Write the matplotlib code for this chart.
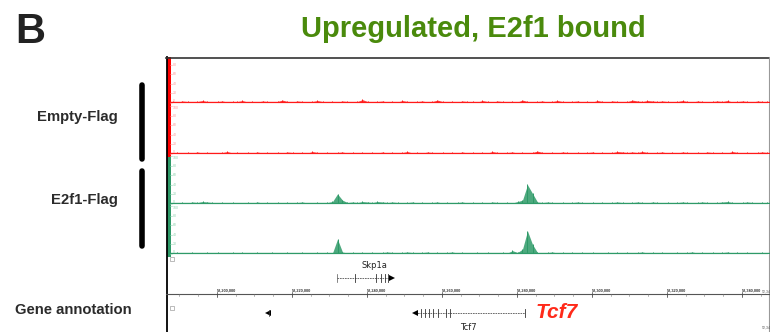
import numpy as np
import matplotlib
matplotlib.use("Agg")
import matplotlib.pyplot as plt
from matplotlib.patches import Rectangle

plt.rcParams['font.family'] = ['Liberation Sans', 'DejaVu Sans']

W, H = 770, 332

# genome window (bp) shown in the browser
XMIN, XMAX = 52187467, 52347467

# binned coverage, 120 bins over the window
empty_rep1 = [3,2,4,3,2,3,5,3,2,3,4,2,3,3,5,2,3,2,4,3,
              2,3,6,3,2,4,3,2,3,5,3,2,3,2,4,3,2,3,7,3,
              2,3,4,2,3,2,5,3,2,3,4,2,3,6,3,2,3,2,4,3,
              3,2,5,3,2,4,3,2,3,2,6,3,2,3,4,2,3,5,3,2,
              3,4,2,3,2,5,3,2,4,3,2,3,6,4,3,5,4,3,4,3,
              2,3,5,3,2,4,3,2,3,4,3,5,2,3,4,3,2,4,3,3]
empty_rep2 = [2,3,2,3,2,4,2,3,2,2,3,5,2,3,2,3,2,4,2,3,
              2,3,2,4,3,2,3,2,5,3,2,3,2,3,4,2,3,2,3,2,
              3,2,4,2,3,2,3,5,2,3,2,4,3,2,3,2,3,2,4,2,
              3,2,3,2,5,3,2,3,4,2,3,2,3,6,3,2,3,2,4,3,
              2,3,2,3,4,2,3,2,3,5,4,3,4,3,5,3,2,3,4,2,
              3,2,4,3,2,3,2,4,3,2,3,2,5,3,2,3,2,3,4,3]
e2f1_rep1 = [2,2,3,2,4,3,5,4,3,2,3,2,3,2,2,3,2,4,2,3,
             2,3,2,3,2,3,4,2,2,3,2,3,5,21,8,3,4,3,5,4,
             3,5,4,3,4,3,2,3,4,2,3,2,3,4,2,3,2,3,4,2,
             3,2,3,2,4,3,2,3,2,5,8,40,22,4,3,4,3,2,3,2,
             3,4,3,2,3,2,3,2,3,4,3,2,3,4,3,2,4,3,2,3,
             2,3,4,3,2,3,4,3,2,3,4,5,3,2,3,4,3,2,3,3]
e2f1_rep2 = [2,3,2,2,3,2,2,3,2,3,2,2,3,2,3,2,2,3,2,2,
             3,2,2,3,2,2,3,2,2,3,2,3,2,31,4,2,3,2,3,2,
             3,2,3,4,3,2,3,4,3,2,3,4,2,3,2,3,4,2,3,2,
             2,3,2,3,2,2,3,2,7,3,10,48,20,3,2,3,4,2,3,2,
             3,2,3,2,3,2,2,3,2,3,2,3,2,3,4,2,3,2,3,2,
             2,3,2,3,4,2,3,2,3,2,3,4,2,3,2,3,2,2,3,2]

track_data = [empty_rep1, empty_rep2, e2f1_rep1, e2f1_rep2]
track_colors = ['#ff1a1a', '#ff1a1a', '#2e9a68', '#2e9a68']
label_colors = ['#ff9a9a', '#ff9a9a', '#8fd3b0', '#8fd3b0']
yticks = [0, 20, 40, 60, 80, 100]

# genes
skp1a_span = (52232000, 52246667)
skp1a_exons = [52236800, 52242400, 52243733, 52244800, 52245600]
tcf7_span = (52252800, 52282133)
tcf7_exons = [52254400, 52255467, 52256533, 52257600, 52258933, 52261067, 52262133]
other_gene_end = 52213600
ruler_major = [52200000, 52220000, 52240000, 52260000, 52280000, 52300000, 52320000, 52340000]


def box(x0, y0, x1, y1):
    return [x0 / W, 1 - y1 / H, (x1 - x0) / W, (y1 - y0) / H]


fig = plt.figure(figsize=(W / 100, H / 100), dpi=100)

# background axes in pixel coordinates
bg = fig.add_axes([0, 0, 1, 1], zorder=0)
bg.set_xlim(0, W)
bg.set_ylim(H, 0)
bg.axis('off')

bg.text(15, 43, "B", fontsize=30, weight='bold', color='#222222', ha='left', va='baseline')
bg.text(473, 37, "Upregulated, E2f1 bound", fontsize=21, weight='bold',
        color='#4a8a0c', ha='center', va='baseline')

bg.text(118, 121, "Empty-Flag", fontsize=10.7, weight='bold', color='#2b2b2b', ha='right', va='baseline')
bg.text(118, 204, "E2f1-Flag", fontsize=10.7, weight='bold', color='#2b2b2b', ha='right', va='baseline')
bg.text(15, 314, "Gene annotation", fontsize=10.7, weight='bold', color='#2b2b2b', ha='left', va='baseline')

for y0, y1 in [(84.5, 158.5), (170.5, 245.5)]:
    bg.plot([141.5, 141.5], [y0, y1], color='black', lw=4, solid_capstyle='round')

# browser frame
bg.add_patch(Rectangle((167, 57), 4, 100, color='#ff0000', lw=0))
bg.add_patch(Rectangle((167, 157), 4, 100, color='#2e9a68', lw=0))
bg.plot([166.5, 166.5], [57, 332], color='black', lw=1.3)
bg.plot([166, 769.5], [57.5, 57.5], color='#333333', lw=1.2)
bg.plot([769.3, 769.3], [57, 332], color='#999999', lw=0.8)
bg.plot([166, 770], [294, 294], color='#555555', lw=0.8)
for yy in [257, 306]:
    bg.add_patch(Rectangle((170, yy), 3.5, 3.5, fill=False, ec='#888888', lw=0.4))
bg.text(557, 313, "Tcf7", fontsize=15, weight='bold', style='italic', color='#ff2a1a',
        ha='center', va='center')
bg.text(762, 294, "52,34", fontsize=2.5, color='#555555', ha='left', va='bottom')
bg.text(762, 330, "52,34", fontsize=2.5, color='#555555', ha='left', va='bottom')

# signal tracks
edges = np.linspace(XMIN, XMAX, len(empty_rep1) + 1)
centers = (edges[:-1] + edges[1:]) / 2
baselines = [103, 154, 204, 254]
for k, (vals, base) in enumerate(zip(track_data, baselines)):
    ax = fig.add_axes(box(170, base - 48, 770, base), zorder=1)
    ax.set_facecolor('none')
    ax.set_xlim(XMIN, XMAX)
    ax.set_ylim(0, 100)
    ax.axis('off')
    v = np.array(vals, dtype=float)
    ax.fill_between(centers, 0.8, v, color=track_colors[k], lw=0, alpha=0.85)
    ax.vlines(centers, 0.5, v + 0.8, color=track_colors[k], lw=0.7)
    ax.plot([XMIN, XMAX], [1.5, 1.5], color=track_colors[k], lw=1.0)
    for t in yticks:
        if k == 0 and t == 100:
            continue
        va = 'bottom' if t == 0 else ('top' if t == 100 else 'center')
        ax.plot([XMIN, XMIN + 500], [t, t], color=label_colors[k], lw=0.4, clip_on=False)
        ax.text(XMIN + 700, t, str(t), fontsize=2.5, color=label_colors[k],
                ha='left', va=va, clip_on=False)

# gene annotation + ruler (y in pixels)
ga = fig.add_axes(box(170, 257, 770, 332), zorder=1)
ga.set_facecolor('none')
ga.set_xlim(XMIN, XMAX)
ga.set_ylim(332, 257)
ga.axis('off')

# Skp1a (+ strand)
ga.plot(skp1a_span, [278, 278], color='#555555', lw=0.6, ls=(0, (2, 1)))
ga.plot([skp1a_span[0]] * 2, [274, 282], color='#555555', lw=0.5)
for e in skp1a_exons:
    ga.plot([e, e], [274, 282], color='#333333', lw=0.6)
ga.plot(skp1a_span[1], 278, marker='>', ms=4, color='black', mew=0)
ga.text(np.mean([skp1a_exons[0], skp1a_exons[-1]]) + 800, 265, "Skp1a", fontsize=6,
        family='DejaVu Sans', color='#222222', ha='center', va='center')

# ruler
for p in np.arange(ruler_major[0] - 10000, XMAX, 5000):
    ga.plot([p, p], [293.5, 295.5], color='#777777', lw=0.4)
for p in ruler_major:
    ga.plot([p, p], [292, 296.5], color='#444444', lw=0.5)
    ga.text(p, 292.5, f"{p:,}", fontsize=2.8, weight='bold', color='#333333',
            ha='left', va='bottom')

# neighbour gene end and Tcf7 (- strand)
ga.plot(other_gene_end, 313, marker='<', ms=4, color='black', mew=0)
ga.plot([other_gene_end + 300] * 2, [310, 316], color='#333333', lw=0.5)
ga.plot(tcf7_span, [313, 313], color='#555555', lw=0.6, ls=(0, (2, 1)))
ga.plot(tcf7_span[0], 313, marker='<', ms=4, color='black', mew=0)
ga.plot([tcf7_span[1]] * 2, [309, 317], color='#333333', lw=0.6)
for e in tcf7_exons:
    ga.plot([e, e], [309, 317], color='#333333', lw=0.6)
ga.text(52266933, 331.5, "Tcf7", fontsize=6, family='DejaVu Sans', color='#222222',
        ha='center', va='bottom', clip_on=False)

fig.savefig("out.png", dpi=100)
